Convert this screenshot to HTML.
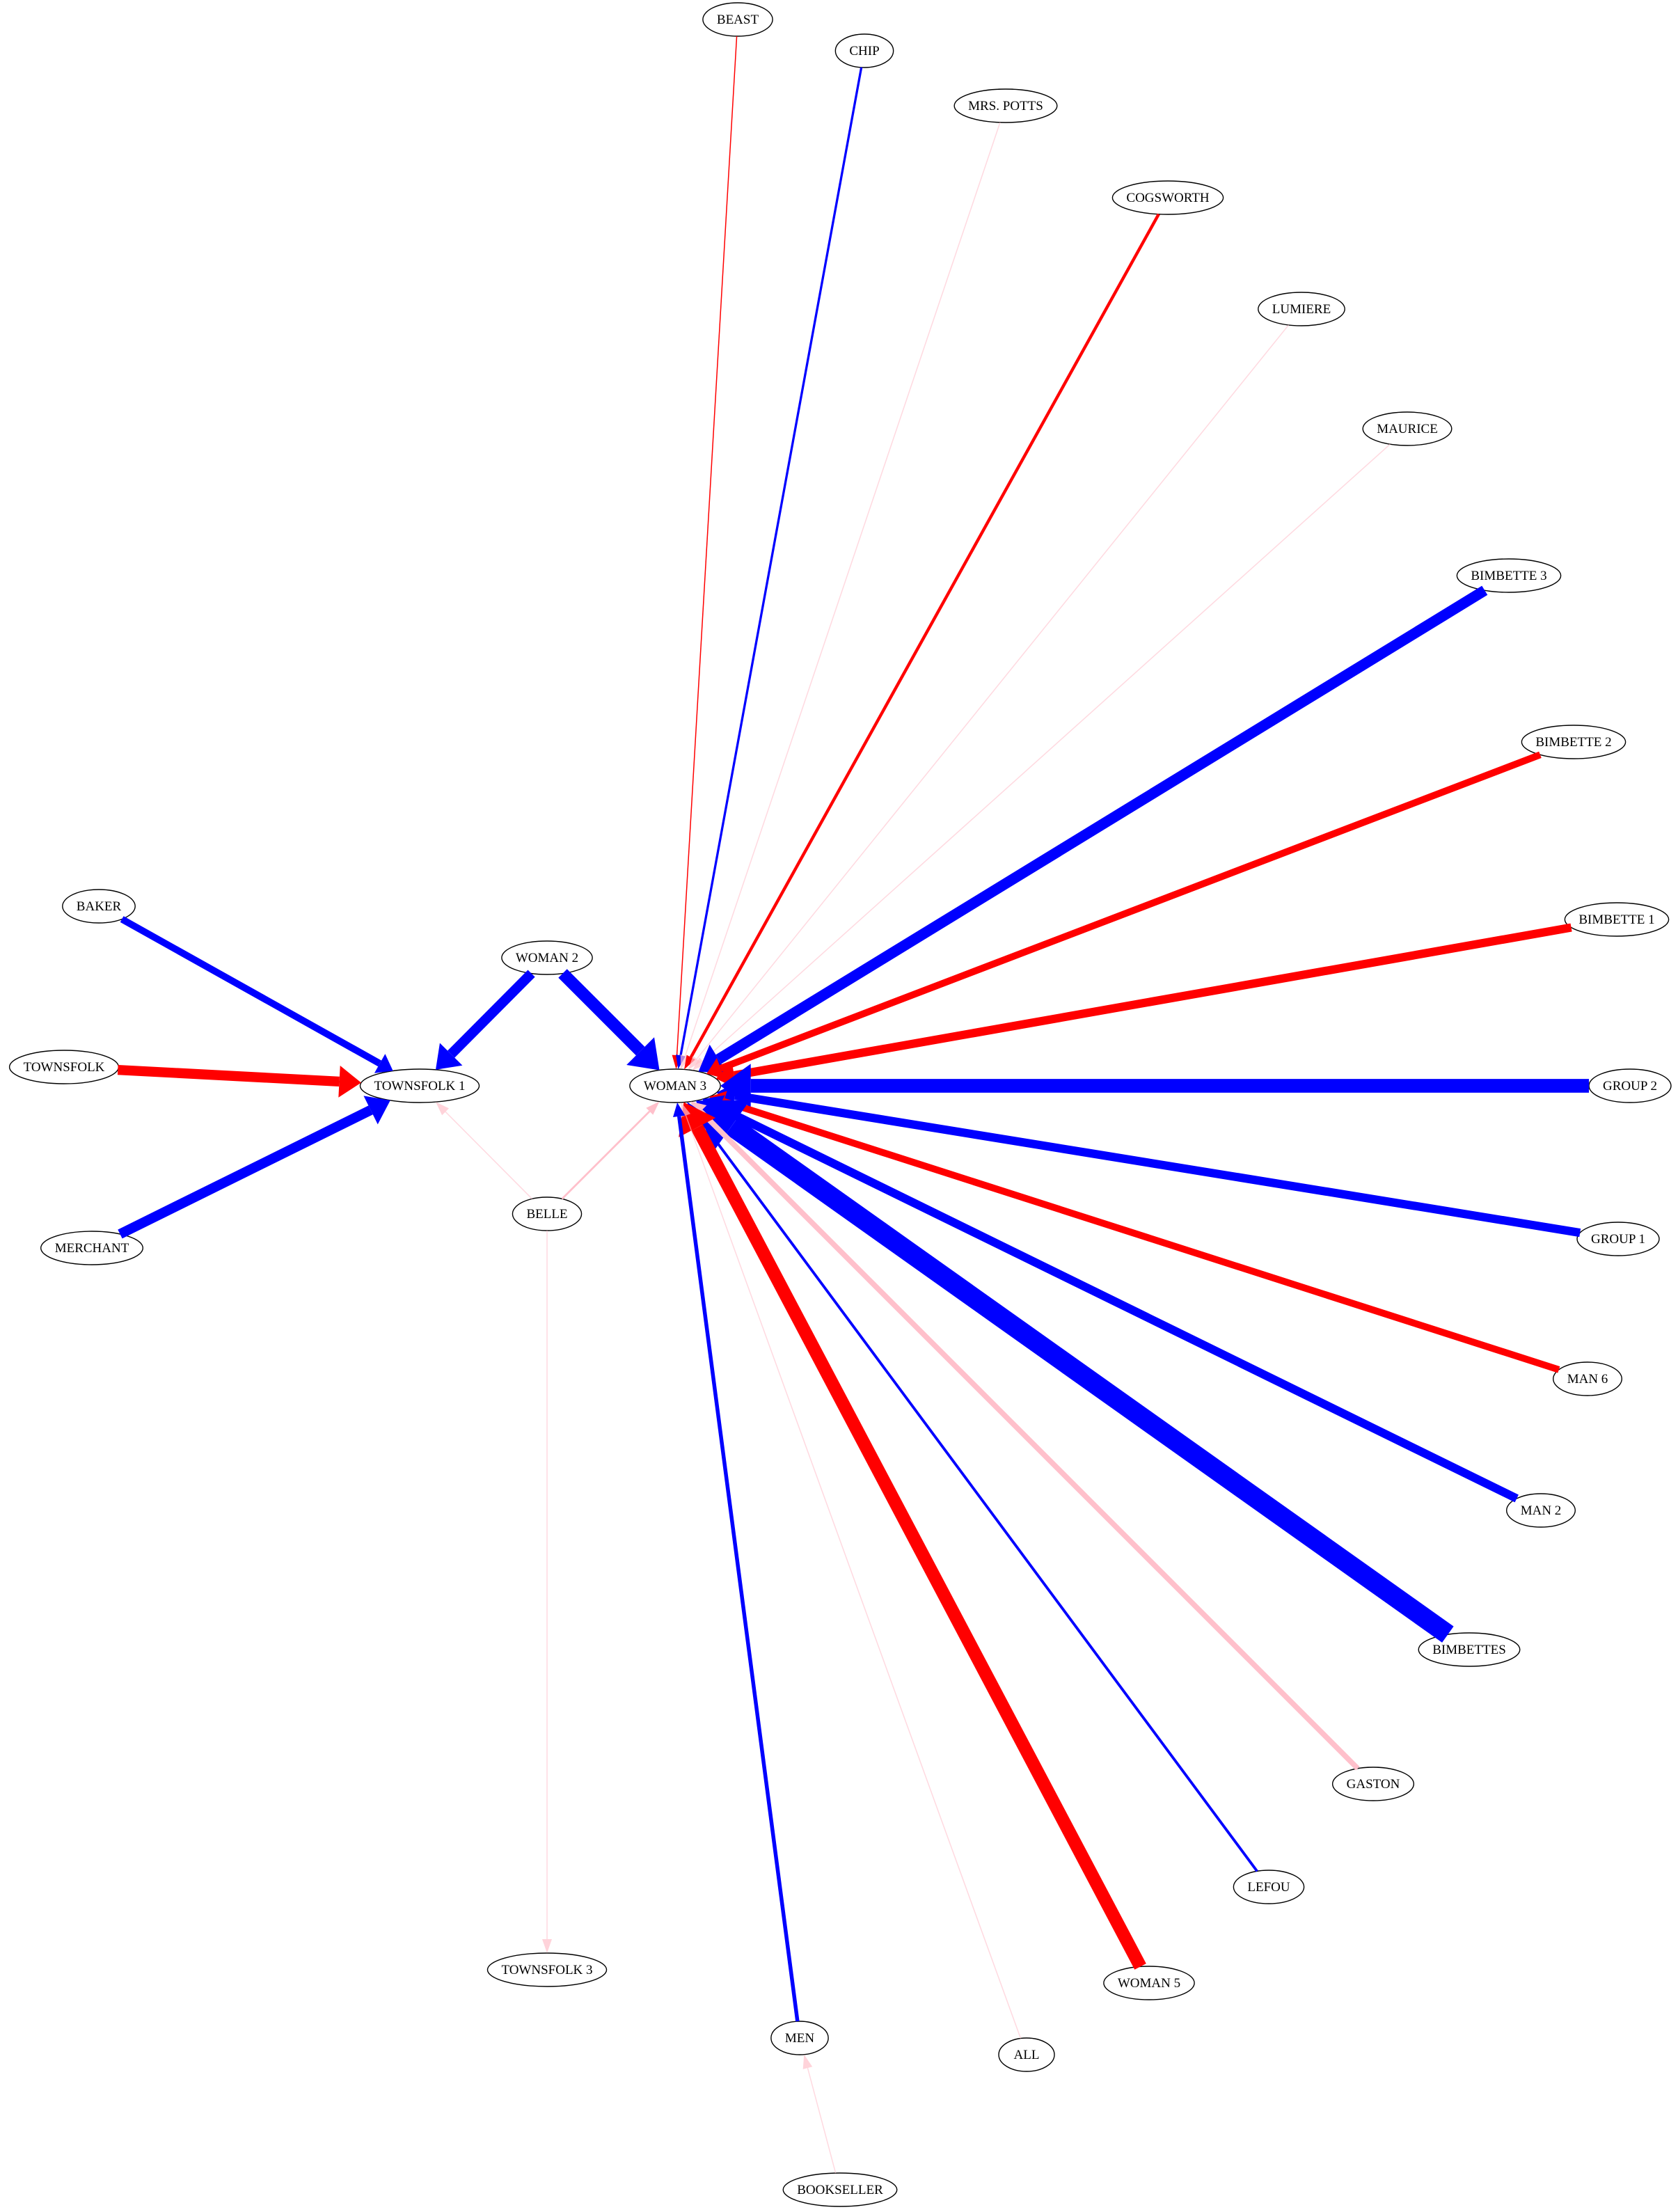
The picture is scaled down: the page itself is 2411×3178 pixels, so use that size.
<!DOCTYPE html>
<html><head><meta charset="utf-8"><style>
html,body{margin:0;padding:0;background:#fff;}
svg{display:block;}
text{font-family:"Liberation Serif",serif;font-size:19px;fill:#000;}
</style></head><body>
<svg id="g" width="2411" height="3178" viewBox="0 0 2411 3178" xmlns="http://www.w3.org/2000/svg">
<g id="nodes"></g>
<g id="edges"></g>
<g id="labels"></g>
</svg>
<script>
const nodeNames = ["BEAST","CHIP","MRS. POTTS","COGSWORTH","LUMIERE","MAURICE","BIMBETTE 3","BIMBETTE 2","BIMBETTE 1","GROUP 2","GROUP 1","MAN 6","MAN 2","BIMBETTES","GASTON","LEFOU","WOMAN 5","ALL","MEN","BOOKSELLER","TOWNSFOLK 3","BELLE","WOMAN 2","WOMAN 3","TOWNSFOLK 1","BAKER","TOWNSFOLK","MERCHANT"];
const nodeX = [1060,1242,1445,1678,1870,2022,2168,2261,2323,2342,2325,2281,2214,2111,1973,1823,1651,1475,1149,1207,786,786,786,970,603,142,92,132];
const nodeY = [28,73,152,284,444,616,827,1066,1321,1560,1780,1981,2170,2370,2563,2711,2849,2952,2928,3146,2830,1744,1376,1560,1560,1302,1533,1793];
const edgeSource = ["BEAST","CHIP","MRS. POTTS","COGSWORTH","LUMIERE","MAURICE","BIMBETTE 3","BIMBETTE 2","BIMBETTE 1","GROUP 2","GROUP 1","MAN 6","MAN 2","BIMBETTES","GASTON","LEFOU","WOMAN 5","ALL","MEN","BOOKSELLER","WOMAN 2","WOMAN 2","BAKER","TOWNSFOLK","MERCHANT","BELLE","BELLE","BELLE"];
const edgeTarget = ["WOMAN 3","WOMAN 3","WOMAN 3","WOMAN 3","WOMAN 3","WOMAN 3","WOMAN 3","WOMAN 3","WOMAN 3","WOMAN 3","WOMAN 3","WOMAN 3","WOMAN 3","WOMAN 3","WOMAN 3","WOMAN 3","WOMAN 3","WOMAN 3","WOMAN 3","MEN","WOMAN 3","TOWNSFOLK 1","TOWNSFOLK 1","TOWNSFOLK 1","TOWNSFOLK 1","TOWNSFOLK 1","WOMAN 3","TOWNSFOLK 3"];
const edgeWeight = [1,3,1,4,1,1,14,9,11,18,11,9,11,26,7,3.5,17,1,5,1,16,13,9,13,13,1,2.5,1];
const edgeColor = ["red","blue","pink","red","pink","pink","blue","red","red","blue","blue","red","blue","blue","pink","blue","red","pink","blue","pink","blue","blue","blue","red","blue","pink","pink","pink"];

const NS="http://www.w3.org/2000/svg";
const nodesG=document.getElementById('nodes'), edgesG=document.getElementById('edges'), labelsG=document.getElementById('labels');
const rx={}, ry={}, pos={};
function slug(s){return s.toLowerCase().replace(/[^a-z0-9]+/g,'-').replace(/-$/,'');}
nodeNames.forEach((n,i)=>{
  const t=document.createElementNS(NS,'text');
  t.setAttribute('x',nodeX[i]);t.setAttribute('y',nodeY[i]+6);t.setAttribute('text-anchor','middle');
  t.textContent=n;
  
  
  labelsG.appendChild(t);
  const tw=t.getComputedTextLength();
  rx[n]=Math.max(tw/2+20,40); ry[n]=24; pos[n]=[nodeX[i],nodeY[i]];
  const e=document.createElementNS(NS,'ellipse');
  e.setAttribute('cx',nodeX[i]);e.setAttribute('cy',nodeY[i]);e.setAttribute('rx',rx[n]);e.setAttribute('ry',ry[n]);
  e.setAttribute('fill','#fff');e.setAttribute('stroke','#000');e.setAttribute('stroke-width','1.4');
  
  
  nodesG.appendChild(e);
});
function boundary(n,dx,dy){
  const a=rx[n],b=ry[n];const t=1/Math.sqrt((dx*dx)/(a*a)+(dy*dy)/(b*b));
  return [pos[n][0]+dx*t,pos[n][1]+dy*t];
}
edgeSource.forEach((s,i)=>{
  const t=edgeTarget[i], w=edgeWeight[i]*1.1, c=edgeColor[i];
  const [sx,sy]=pos[s],[tx,ty]=pos[t];
  let dx=tx-sx,dy=ty-sy;const L=Math.hypot(dx,dy);dx/=L;dy/=L;
  const p0=boundary(s,dx,dy), tip=boundary(t,-dx,-dy);
  const al=Math.max(20,w*2.2), ah=Math.max(7,w*1.6);
  const bx=tip[0]-dx*al, by=tip[1]-dy*al;
  const ln=document.createElementNS(NS,'line');
  ln.setAttribute('x1',p0[0]);ln.setAttribute('y1',p0[1]);ln.setAttribute('x2',bx);ln.setAttribute('y2',by);
  ln.setAttribute('stroke',c);ln.setAttribute('stroke-width',Math.max(w,1.5));
  if(c==='pink'&&edgeWeight[i]<=1) ln.setAttribute('stroke-opacity','0.6');
  
  
  edgesG.appendChild(ln);
  const px=-dy,py=dx;
  const ar=document.createElementNS(NS,'polygon');
  ar.setAttribute('points',`${tip[0]},${tip[1]} ${bx+px*ah},${by+py*ah} ${bx-px*ah},${by-py*ah}`);
  ar.setAttribute('fill',c);
  if(c==='pink'&&edgeWeight[i]<=1) ar.setAttribute('fill-opacity','0.7');
  
  
  edgesG.appendChild(ar);
});
</script>
</body></html>
